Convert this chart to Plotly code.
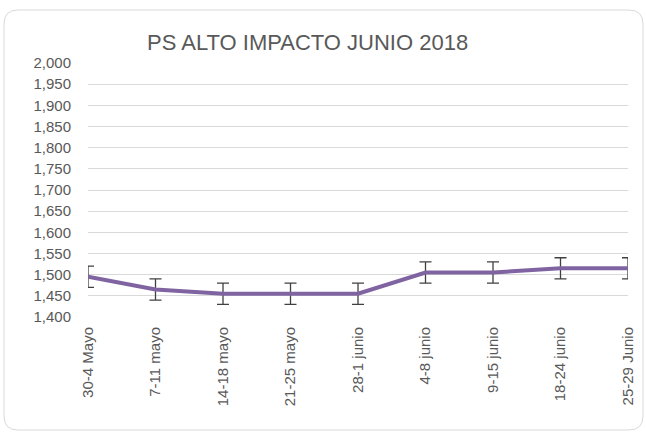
import plotly.graph_objects as go

categories = ["30-4 Mayo", "7-11 mayo", "14-18 mayo", "21-25 mayo", "28-1 junio",
              "4-8 junio", "9-15 junio", "18-24 junio", "25-29 Junio"]
values = [1495, 1465, 1455, 1455, 1455, 1505, 1505, 1515, 1515]
errors = [25, 25, 25, 25, 25, 25, 25, 25, 25]
y_ticks = [1400, 1450, 1500, 1550, 1600, 1650, 1700, 1750, 1800, 1850, 1900, 1950, 2000]
title_text = "PS ALTO IMPACTO JUNIO 2018"

W, H = 646, 433
ML, MR, MT, MB = 88, 18, 63, 116
PW = W - ML - MR
PH = H - MT - MB

def px(x):
    return (x - ML) / PW

def py(y):
    return (H - MB - y) / PH

xs = list(range(len(categories)))

fig = go.Figure()
fig.add_trace(go.Scatter(
    x=xs, y=values, mode="lines",
    line=dict(color="#8064A2", width=4),
    error_y=dict(type="data", array=errors, visible=True,
                 color="#404040", thickness=1.3, width=6),
    cliponaxis=True,
    hoverinfo="skip",
))

# rounded chart border
x0, y0, x1, y1, r = 4, 10, 643, 430, 14
path = (
    f"M {px(x0 + r)},{py(y0)} L {px(x1 - r)},{py(y0)} "
    f"Q {px(x1)},{py(y0)} {px(x1)},{py(y0 + r)} "
    f"L {px(x1)},{py(y1 - r)} Q {px(x1)},{py(y1)} {px(x1 - r)},{py(y1)} "
    f"L {px(x0 + r)},{py(y1)} Q {px(x0)},{py(y1)} {px(x0)},{py(y1 - r)} "
    f"L {px(x0)},{py(y0 + r)} Q {px(x0)},{py(y0)} {px(x0 + r)},{py(y0)} Z"
)
fig.add_shape(type="path", path=path, xref="paper", yref="paper",
              line=dict(color="#d9d9d9", width=1), layer="below")

fig.add_annotation(text=title_text, xref="paper", yref="paper",
                   x=px(307), y=py(43), xanchor="center", yanchor="middle",
                   showarrow=False,
                   font=dict(family="Liberation Sans", size=22, color="#595959"))

fig.update_layout(
    width=W, height=H,
    margin=dict(l=ML, r=MR, t=MT, b=MB, autoexpand=False),
    paper_bgcolor="white", plot_bgcolor="white",
    showlegend=False,
    font=dict(family="Liberation Sans", size=15, color="#595959"),
    xaxis=dict(
        range=[0, len(categories) - 1],
        tickmode="array", tickvals=xs, ticktext=categories,
        tickangle=-90, showgrid=False, zeroline=False,
        showline=False, ticks="", fixedrange=True, automargin=False,
        ticklabelstandoff=6,
        tickfont=dict(size=15, color="#595959"),
    ),
    yaxis=dict(
        range=[1400, 2000],
        tickmode="array", tickvals=y_ticks,
        ticktext=[f"{v:,}" for v in y_ticks],
        showgrid=True, gridcolor="#d9d9d9", gridwidth=1,
        zeroline=False, showline=False, ticks="", ticklabelstandoff=16,
        automargin=False, fixedrange=True,
        tickfont=dict(size=15, color="#595959"),
    ),
)

fig.write_html("out.html", config={"displayModeBar": False},
               post_script="document.body.style.margin='0';")
